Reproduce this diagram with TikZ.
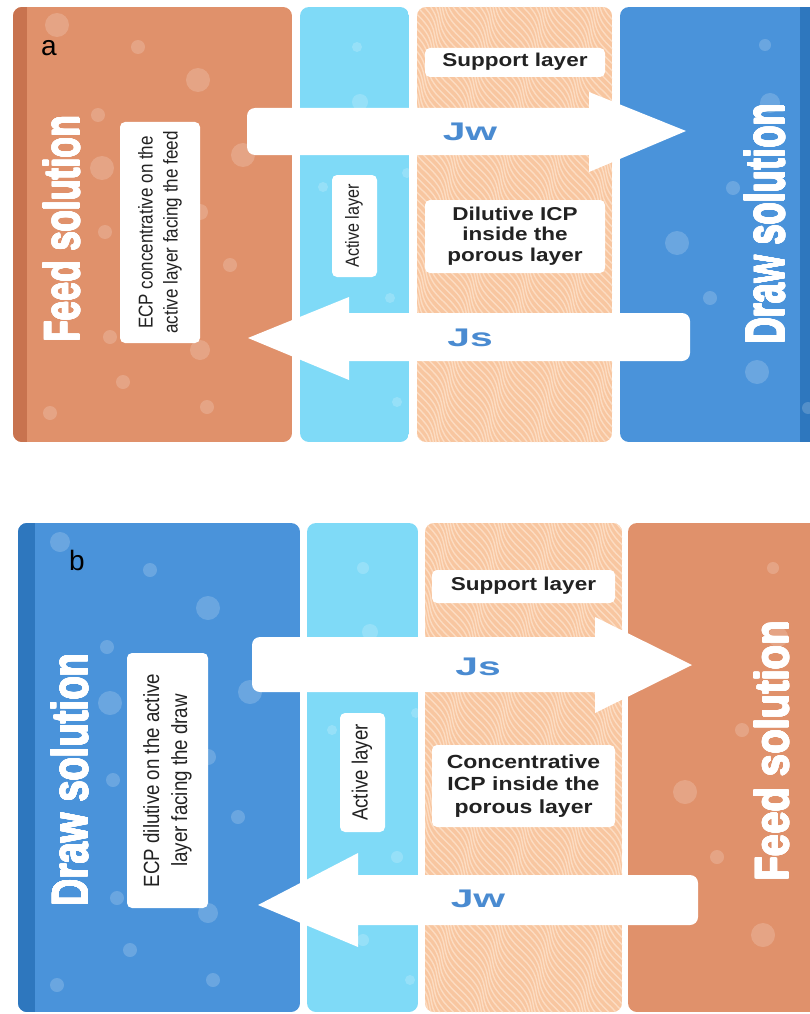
\documentclass[tikz,border=0pt]{standalone}
\usepackage{fontspec}
\usepackage{graphicx}
\usepackage{contour}
\contourlength{0.12pt}
\contournumber{16}
\setmainfont{Liberation Sans}
\definecolor{feedc}{HTML}{E0916B}
\definecolor{feeddark}{HTML}{C8734F}
\definecolor{activec}{HTML}{7FDAF7}
\definecolor{supportc}{HTML}{F8C6A0}
\definecolor{grainc}{HTML}{FCDCC2}
\definecolor{drawc}{HTML}{4A93DA}
\definecolor{drawdark}{HTML}{2E77BE}
\definecolor{fluxc}{HTML}{4A8BD1}
\definecolor{inkc}{HTML}{222222}
\newcommand\grainfill[4]{%
  \begin{scope}
    \clip[rounded corners=9pt] (#1,#2) rectangle (#3,#4);
    \fill[supportc] (#1,#2) rectangle (#3,#4);
    \foreach \k in {-300,-295,...,200} {
      \draw[grainc, line width=1.4pt]
        plot[domain=0:500, samples=70, smooth] ({#1+\k+0.6*\x+4*sin(\x*6+\k*7)},{#2+\x});
    }
  \end{scope}}
% horizontally scaled, centred block of lines
\newcommand\sx[2]{\scalebox{#1}[1]{\begin{tabular}{@{}c@{}}#2\end{tabular}}}
% heavy white condensed title
\newcommand\heavy[3]{\resizebox{#1}{#2}{\bfseries\contour{white}{#3}}}
\begin{document}
\begin{tikzpicture}[x=1pt,y=-1pt,
  panel/.style={rounded corners=9pt},
  lbox/.style={fill=white, rounded corners=5pt, inner sep=0pt, text=inkc},
  bubble/.style={fill=white, fill opacity=0.18},
  flux/.style={text=fluxc, font=\bfseries\fontsize{25.5}{25.5}\selectfont},
  arrowbody/.style={fill=white, rounded corners=8pt},
  bigtext/.style={text=white, rotate=90, inner sep=0pt},
  ptext/.style={font=\bfseries\fontsize{18.6}{20.5}\selectfont}]
\useasboundingbox (0,0) rectangle (810,1014);
\fill[white] (0,0) rectangle (810,1014);

% ================= PANEL A =================
% feed
\begin{scope}
  \clip[panel] (13,7) rectangle (292,442);
  \fill[feedc] (13,7) rectangle (292,442);
  \fill[feeddark] (13,7) rectangle (27,442);
  \foreach \a/\b/\r in {57/25/12, 138/47/7, 198/80/12, 98/115/7, 102/168/12, 243/155/12, 200/212/8, 105/232/7, 230/265/7, 110/337/7, 200/350/10, 123/382/7, 207/407/7, 50/413/7}
    \fill[bubble] (\a,\b) circle (\r);
\end{scope}
% active
\begin{scope}
  \clip[panel] (300,7) rectangle (409,442);
  \fill[activec] (300,7) rectangle (409,442);
  \foreach \a/\b/\r in {357/47/5, 360/102/8, 323/187/5, 390/298/5, 407/173/5, 397/402/5}
    \fill[bubble] (\a,\b) circle (\r);
\end{scope}
% support
\grainfill{417}{7}{612}{442}
% draw
\begin{scope}
  \clip[panel] (620,7) rectangle (820,442);
  \fill[drawc] (620,7) rectangle (820,442);
  \fill[drawdark] (800,7) rectangle (820,442);
  \foreach \a/\b/\r in {765/45/6, 770/103/10, 733/188/7, 677/243/12, 710/298/7, 757/372/12, 808/408/6}
    \fill[bubble] (\a,\b) circle (\r);
\end{scope}

% arrows a
\fill[arrowbody] (247,108) rectangle (600,155);
\fill[white] (589,92) -- (686,131) -- (589,172) -- cycle;
\fill[arrowbody] (340,313) rectangle (690,361);
\fill[white] (349,297) -- (248,338) -- (349,380) -- cycle;
\node[flux] (jwa) at (470,135) {\sx{1.6}{Jw}};
\node[flux] (jsa) at (470,341) {\sx{1.6}{Js}};

% labels a
\node[font=\fontsize{28}{28}\selectfont, inner sep=0pt] (la) at (49,48) {a};
\node[bigtext] (feeda) at (62,229) {\heavy{226pt}{36pt}{Feed solution}};
\node[bigtext] (drawa) at (765,224) {\heavy{240pt}{40pt}{Draw solution}};
\node[lbox, rotate=90, minimum width=221pt, minimum height=80pt, font=\fontsize{20}{25}\selectfont] (ecpa) at (160,232.5)
  {\sx{0.85}{ECP concentrative on the\\active layer facing the feed}};
\node[lbox, rotate=90, minimum width=102pt, minimum height=45pt, font=\fontsize{19}{22}\selectfont] (acta) at (354.5,226) {\sx{0.85}{Active layer}};
\node[lbox, minimum width=180pt, minimum height=29pt, ptext] (supa) at (515,62.5) {\sx{1.21}{Support layer}};
\node[lbox, minimum width=180pt, minimum height=73pt, ptext] (icpa) at (515,236.5)
  {\sx{1.21}{Dilutive ICP\\inside the\\porous layer}};

% ================= PANEL B =================
% draw
\begin{scope}
  \clip[panel] (18,523) rectangle (300,1012);
  \fill[drawc] (18,523) rectangle (300,1012);
  \fill[drawdark] (18,523) rectangle (35,1012);
  \foreach \a/\b/\r in {60/542/10, 150/570/7, 208/608/12, 107/647/7, 110/703/12, 250/692/12, 208/757/8, 113/780/7, 238/817/7, 117/898/7, 208/913/10, 130/950/7, 213/980/7, 57/985/7}
    \fill[bubble] (\a,\b) circle (\r);
\end{scope}
% active
\begin{scope}
  \clip[panel] (307,523) rectangle (418,1012);
  \fill[activec] (307,523) rectangle (418,1012);
  \foreach \a/\b/\r in {363/568/6, 370/632/8, 332/730/5, 397/857/6, 363/940/6, 410/980/5, 416/713/5}
    \fill[bubble] (\a,\b) circle (\r);
\end{scope}
% support
\grainfill{425}{523}{622}{1012}
% feed
\begin{scope}
  \clip[panel] (628,523) rectangle (830,1012);
  \fill[feedc] (628,523) rectangle (830,1012);
  \foreach \a/\b/\r in {773/568/6, 778/637/10, 742/730/7, 685/792/12, 717/857/7, 763/935/12}
    \fill[bubble] (\a,\b) circle (\r);
\end{scope}

% arrows b
\fill[arrowbody] (252,637) rectangle (605,692);
\fill[white] (595,617) -- (692,665) -- (595,713) -- cycle;
\fill[arrowbody] (350,875) rectangle (698,925);
\fill[white] (358,853) -- (258,905) -- (358,947) -- cycle;
\node[flux] (jsb) at (478,670) {\sx{1.6}{Js}};
\node[flux] (jwb) at (478,902) {\sx{1.6}{Jw}};

% labels b
\node[font=\fontsize{28}{28}\selectfont, inner sep=0pt] (lb) at (77,560) {b};
\node[bigtext] (drawb) at (70,780) {\heavy{253pt}{37pt}{Draw solution}};
\node[bigtext] (feedb) at (772,751) {\heavy{260pt}{34pt}{Feed solution}};
\node[lbox, rotate=90, minimum width=255pt, minimum height=81pt, font=\fontsize{22}{28}\selectfont] (ecpb) at (167.5,780.5)
  {\sx{0.85}{ECP dilutive on the active\\layer facing the draw}};
\node[lbox, rotate=90, minimum width=119pt, minimum height=45pt, font=\fontsize{22}{25}\selectfont] (actb) at (362.5,772.5) {\sx{0.85}{Active layer}};
\node[lbox, minimum width=183pt, minimum height=33pt, ptext] (supb) at (523.5,586.5) {\sx{1.21}{Support layer}};
\node[lbox, minimum width=183pt, minimum height=82pt, font=\bfseries\fontsize{19}{22.5}\selectfont] (icpb) at (523.5,786)
  {\sx{1.21}{Concentrative\\ICP inside the\\porous layer}};
\end{tikzpicture}
\end{document}
